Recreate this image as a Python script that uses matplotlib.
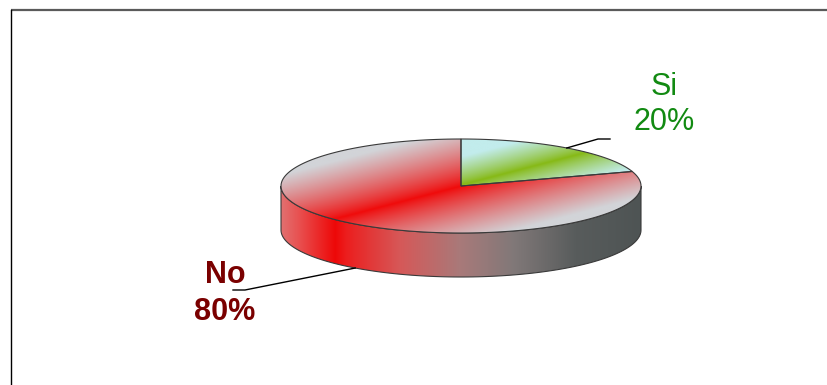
import numpy as np
import matplotlib
matplotlib.use("Agg")
import matplotlib.pyplot as plt
from matplotlib.path import Path
from matplotlib.patches import PathPatch
from matplotlib.colors import to_rgb

# datos
etiquetas = ["Si", "No"]
valores = [20, 80]
colores_centro = ["#86b914", "#f00a0a"]
colores_borde = ["#c2ecec", "#d2d4d8"]
colores_texto = ["#128a12", "#7a0000"]
negrita = [False, True]

W, H = 827, 385
cx, cy, a, b, prof = 461, 186, 180, 47, 44


def punto(ang, dy=0):
    t = np.radians(ang)
    return cx + a * np.cos(t), cy - b * np.sin(t) + dy


fig = plt.figure(figsize=(W / 100, H / 100), dpi=100)
ax = fig.add_axes([0, 0, 1, 1])
ax.set_xlim(0, W)
ax.set_ylim(H, 0)
ax.axis("off")

# marco
ax.plot([11, W], [10, 10], color="#5a5a5a", lw=1.6, solid_capstyle="butt")
ax.plot([11, 11], [10, H], color="black", lw=1.0)

total = sum(valores)
ini = 90.0
cortes = []
for v in valores:
    span = 360.0 * v / total
    cortes.append((ini - span, ini))
    ini -= span

ext = [cx - a - 2, cx + a + 2, cy + prof + b + 2, cy - b - 2]
xs = np.linspace(ext[0], ext[1], 400)
ys = np.linspace(ext[3], ext[2], 200)
X, Y = np.meshgrid(xs, ys)
U, V = (X - cx) / a, (cy - Y) / b  # coordenadas del circulo sin aplastar

# lateral (gradiente horizontal)
lat_pos = [0.0, 0.05, 0.15, 0.18, 0.33, 0.5, 0.65, 0.82, 1.0]
lat_col = [(226, 112, 112), (232, 80, 80), (238, 8, 8), (236, 30, 30),
           (214, 88, 88), (168, 122, 122), (128, 120, 120), (88, 92, 92), (78, 84, 84)]
lat_col = np.array(lat_col) / 255.0
fx = np.clip((xs - (cx - a)) / (2 * a), 0, 1)
fila = np.stack([np.interp(fx, lat_pos, lat_col[:, k]) for k in range(3)], axis=-1)
img_lat = np.repeat(fila[None, :, :], len(ys), axis=0)

for (a0, a1) in cortes:
    segs = []
    for k in range(-1, 2):
        s0, s1 = max(a0 + 360 * k, 180), min(a1 + 360 * k, 360)
        if s1 > s0:
            segs.append((s0, s1))
    for s0, s1 in segs:
        angs = np.linspace(s0, s1, 120)
        arriba = [punto(t) for t in angs]
        abajo = [punto(t, prof) for t in angs[::-1]]
        verts = arriba + abajo + [arriba[0]]
        patch = PathPatch(Path(verts, closed=True), fc="none", ec="#3a3a3a", lw=0.8, zorder=3)
        ax.add_patch(patch)
        im = ax.imshow(img_lat, extent=ext, zorder=2, interpolation="bilinear")
        im.set_clip_path(patch)

# cara superior: gradiente lineal a 45 grados sobre la caja de cada porcion
nx, ny = -np.sqrt(0.5), np.sqrt(0.5)
for (a0, a1), cc, cb in zip(cortes, colores_centro, colores_borde):
    angs = np.linspace(a0, a1, 200)
    verts = [(cx, cy)] + [punto(t) for t in angs] + [(cx, cy)]
    patch = PathPatch(Path(verts, closed=True), fc="none", ec="#3a3a3a", lw=0.8, zorder=5)
    ax.add_patch(patch)
    pu = np.concatenate([[0], np.cos(np.radians(angs))])
    pv = np.concatenate([[0], np.sin(np.radians(angs))])
    u0, u1, v0, v1 = pu.min(), pu.max(), pv.min(), pv.max()
    mu, mv = (u0 + u1) / 2, (v0 + v1) / 2
    medio = (u1 - u0) / 2 * abs(nx) + (v1 - v0) / 2 * abs(ny)
    t = np.abs((U - mu) * nx + (V - mv) * ny) / medio
    s = np.clip(t / 0.62, 0, 1) ** 0.85
    c0, c1 = np.array(to_rgb(cc)), np.array(to_rgb(cb))
    img = c0 * (1 - s[..., None]) + c1 * s[..., None]
    im = ax.imshow(img, extent=ext, zorder=4, interpolation="bilinear")
    im.set_clip_path(patch)

# etiquetas con lineas guia
pos_texto = [(664, 95, 130), (225, 283, 320)]
for (a0, a1), et, v, ct, bold, (tx, y1, y2) in zip(cortes, etiquetas, valores,
                                                   colores_texto, negrita, pos_texto):
    mid = (a0 + a1) / 2
    if np.sin(np.radians(mid)) < 0:
        px, py = punto(mid, prof)
        codo, fin = (tx + 20, y2 - 30), (tx + 8, y2 - 30)
    else:
        px, py = punto(mid)
        codo, fin = (tx - 66, y1 + 44), (tx - 54, y1 + 44)
    ax.plot([px, codo[0], fin[0]], [py, codo[1], fin[1]], color="black", lw=1.0, zorder=6)
    kw = dict(ha="center", va="baseline", color=ct, fontsize=22,
              family="Liberation Sans", fontweight="bold" if bold else "normal")
    ax.text(tx, y1, et, **kw)
    ax.text(tx, y2, f"{round(100 * v / total)}%", **kw)

fig.savefig("out.png", dpi=100)
